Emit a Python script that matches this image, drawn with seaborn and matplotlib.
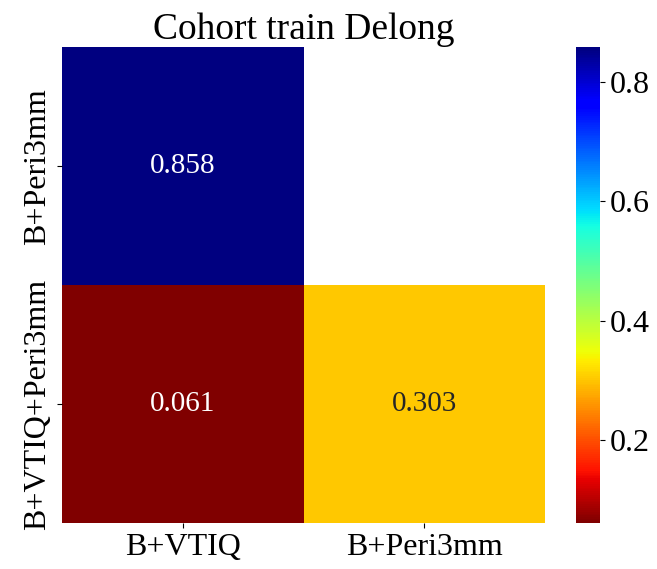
import numpy as np
import pandas as pd
import matplotlib
matplotlib.use("Agg")
import matplotlib.pyplot as plt
import seaborn as sns

# Delong p-values (lower triangle only)
row_labels = ["B+Peri3mm", "B+VTIQ+Peri3mm"]
col_labels = ["B+VTIQ", "B+Peri3mm"]
p_values = [[0.858, np.nan],
            [0.061, 0.303]]
cbar_ticks = [0.2, 0.4, 0.6, 0.8]

df = pd.DataFrame(p_values, index=row_labels, columns=col_labels)
mask = df.isna()

plt.rcParams['font.family'] = ['Liberation Serif', 'DejaVu Serif']

fig = plt.figure(figsize=(6.57, 5.69), dpi=100)
ax = fig.add_axes([0.094, 0.081, 0.736, 0.836])
cax = fig.add_axes([0.876, 0.081, 0.037, 0.836])

sns.heatmap(df, mask=mask, cmap="jet_r", annot=True, fmt=".3f",
            annot_kws={"fontsize": 21}, ax=ax, cbar_ax=cax,
            cbar_kws={"ticks": cbar_ticks})

ax.set_title("Cohort train Delong", fontsize=27)
ax.tick_params(axis='both', labelsize=23)
ax.set_yticklabels(row_labels, rotation=90, va='center')
cax.tick_params(labelsize=23)
for s in cax.spines.values():
    s.set_visible(False)

plt.savefig("out.png", dpi=100)
